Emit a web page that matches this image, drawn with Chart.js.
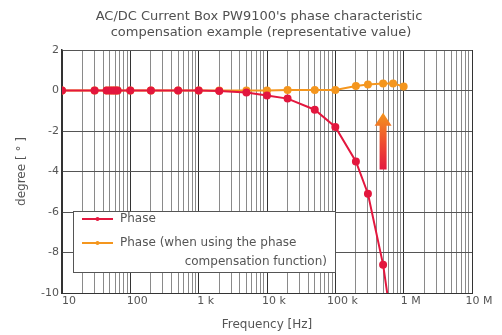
<!DOCTYPE html>
<html>
<head>
<meta charset="utf-8">
<script src="https://cdn.jsdelivr.net/npm/chart.js@4"></script>
<style>
html, body { margin: 0; padding: 0; background: #fff; }
#wrap { width: 502px; height: 335px; }
</style>
</head>
<body>
<div id="wrap"><canvas id="phaseChart" width="502" height="335"></canvas></div>
<script>
// values
const titleLines = [
    "AC/DC Current Box PW9100's phase characteristic",
    "compensation example (representative value)"
];
const seriesNames = [
    "Phase",
    "Phase (when using the phase",
    "compensation function)"
];

const freqs = [10, 30, 45, 50, 55, 60, 65, 100, 200, 500, 1000, 2000, 5000,
    10000, 20000, 50000, 100000, 200000, 300000, 500000, 700000];
const phase = [0, 0, 0, 0, 0, 0, 0, 0, 0, 0, 0, -0.02, -0.1,
    -0.25, -0.4, -0.95, -1.8, -3.5, -5.1, -8.6, -12];

const compFreqs = [10, 30, 45, 50, 55, 60, 65, 100, 200, 500, 1000, 2000, 5000,
    10000, 20000, 50000, 100000, 200000, 300000, 500000, 700000, 1000000];
const compPhase = [0, 0, 0, 0, 0, 0, 0, 0, 0, 0, 0, 0, 0,
    0, 0.03, 0.02, 0.03, 0.22, 0.3, 0.35, 0.35, 0.2];

const decadeLabels = ["10", "100", "1 k", "10 k", "100 k", "1 M", "10 M"];
const yTicks = [2, 0, -2, -4, -6, -8, -10];

// arrow: frequency, from / to degree
const arrowFreq = 500000;
const arrowFrom = -3.9;
const arrowTo = -1.1;

const RED = "#e3173e";
const ORANGE = "#f4961e";
const FONT = "'DejaVu Sans', sans-serif";

function isDecade(v) {
    const l = Math.log10(v);
    return Math.abs(l - Math.round(l)) < 1e-9;
}

const extras = {
    id: "extras",
    afterDatasetsDraw(chart) {
        const ctx = chart.ctx;
        const xs = chart.scales.x, ys = chart.scales.y;
        // arrow
        const ax = xs.getPixelForValue(arrowFreq);
        const y0 = ys.getPixelForValue(arrowFrom);
        const y1 = ys.getPixelForValue(arrowTo);
        const g = ctx.createLinearGradient(0, y0, 0, y1);
        g.addColorStop(0, RED);
        g.addColorStop(0.45, "#ee4a30");
        g.addColorStop(1, ORANGE);
        ctx.save();
        ctx.fillStyle = g;
        ctx.beginPath();
        ctx.moveTo(ax - 3.5, y0);
        ctx.lineTo(ax + 3.5, y0);
        ctx.lineTo(ax + 3.5, y1 + 13);
        ctx.lineTo(ax + 8.5, y1 + 13);
        ctx.lineTo(ax, y1);
        ctx.lineTo(ax - 8.5, y1 + 13);
        ctx.lineTo(ax - 3.5, y1 + 13);
        ctx.closePath();
        ctx.fill();
        ctx.restore();
    },
    afterDraw(chart) {
        const ctx = chart.ctx;
        const ca = chart.chartArea;
        ctx.save();
        // titles
        ctx.fillStyle = "#505050";
        ctx.font = "13px " + FONT;
        ctx.textAlign = "center";
        ctx.textBaseline = "middle";
        ctx.fillText(titleLines[0], 259, 17);
        ctx.fillText(titleLines[1], 261, 33);
        // axis titles
        ctx.fillStyle = "#555";
        ctx.font = "12px " + FONT;
        ctx.fillText("Frequency [Hz]", (ca.left + ca.right) / 2, 325);
        ctx.translate(22, (ca.top + ca.bottom) / 2);
        ctx.rotate(-Math.PI / 2);
        ctx.fillText("degree [ \u00b0 ]", 0, 0);
        ctx.restore();

        // legend box
        ctx.save();
        const lx = 73, ly = 211, lw = 262, lh = 61;
        ctx.fillStyle = "#fff";
        ctx.fillRect(lx, ly, lw, lh);
        ctx.strokeStyle = "#555";
        ctx.lineWidth = 1;
        ctx.strokeRect(lx + 0.5, ly + 0.5, lw, lh);
        const rows = [[RED, 219], [ORANGE, 243]];
        rows.forEach(([c, y]) => {
            ctx.strokeStyle = c;
            ctx.lineWidth = 2;
            ctx.beginPath();
            ctx.moveTo(82, y);
            ctx.lineTo(113, y);
            ctx.stroke();
            ctx.fillStyle = c;
            ctx.beginPath();
            ctx.arc(97.5, y, 2, 0, Math.PI * 2);
            ctx.fill();
        });
        ctx.fillStyle = "#555";
        ctx.font = "12px " + FONT;
        ctx.textBaseline = "middle";
        ctx.textAlign = "left";
        ctx.fillText(seriesNames[0], 120, 219);
        ctx.fillText(seriesNames[1], 120, 243);
        ctx.textAlign = "right";
        ctx.fillText(seriesNames[2], 327, 262);
        ctx.restore();
    }
};

new Chart(document.getElementById("phaseChart"), {
    type: "line",
    data: {
        datasets: [
            {
                label: seriesNames[0],
                data: freqs.map((f, i) => ({ x: f, y: phase[i] })),
                borderColor: RED,
                backgroundColor: RED,
                borderWidth: 2,
                pointRadius: 3,
                pointHoverRadius: 3,
                tension: 0
            },
            {
                label: seriesNames[1],
                data: compFreqs.map((f, i) => ({ x: f, y: compPhase[i] })),
                borderColor: ORANGE,
                backgroundColor: ORANGE,
                borderWidth: 2,
                pointRadius: 3,
                pointHoverRadius: 3,
                tension: 0
            }
        ]
    },
    options: {
        responsive: false,
        animation: false,
        layout: { padding: { top: 50, right: 30, left: 0, bottom: 0 } },
        plugins: {
            legend: { display: false },
            tooltip: { enabled: false }
        },
        scales: {
            x: {
                type: "logarithmic",
                min: 10,
                max: 10000000,
                afterBuildTicks(scale) {
                    const t = [];
                    for (let d = 10; d <= 10000000; d *= 10) {
                        for (let m = 1; m <= 9; m++) {
                            const v = d * m;
                            if (v <= 10000000) t.push({ value: v });
                        }
                    }
                    scale.ticks = t;
                },
                afterFit(scale) { scale.height = 42; },
                ticks: {
                    autoSkip: false,
                    maxRotation: 0,
                    labelOffset: 7,
                    padding: 2,
                    color: "#555",
                    font: { family: FONT, size: 11 },
                    callback(v) {
                        if (!isDecade(v)) return "";
                        return decadeLabels[Math.round(Math.log10(v)) - 1];
                    }
                },
                grid: {
                    drawTicks: false,
                    color: (c) => (c.tick && isDecade(c.tick.value)) ? "#333" : "#8a8a8a",
                    lineWidth: 1
                },
                border: { color: "#333", width: 1 }
            },
            y: {
                min: -10,
                max: 2,
                afterBuildTicks(scale) {
                    scale.ticks = yTicks.map(v => ({ value: v }));
                },
                afterFit(scale) { scale.width = 62; },
                ticks: {
                    padding: 3,
                    color: "#555",
                    font: { family: FONT, size: 11 }
                },
                grid: {
                    drawTicks: false,
                    color: "#555",
                    lineWidth: 1
                },
                border: { color: "#333", width: 1.5 }
            }
        }
    },
    plugins: [extras]
});
</script>
</body>
</html>
